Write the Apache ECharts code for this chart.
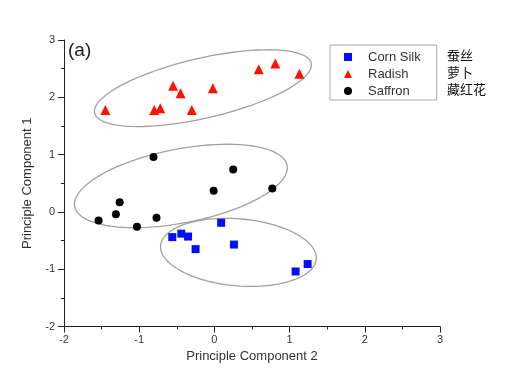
<!DOCTYPE html>
<html><head><meta charset="utf-8">
<script src="https://cdn.jsdelivr.net/npm/echarts@6/dist/echarts.min.js"></script>
<style>html,body{margin:0;padding:0;background:#fff}#c{width:523px;height:379px}</style>
</head><body><div id="c"></div>
<script>
const cornSilk = [[-0.56,-0.44],[-0.44,-0.38],[-0.35,-0.43],[-0.25,-0.65],[0.09,-0.19],[0.26,-0.57],[1.08,-1.04],[1.24,-0.91]];
const radish = [[-1.45,1.78],[-0.80,1.78],[-0.72,1.81],[-0.55,2.20],[-0.45,2.07],[-0.30,1.78],[-0.02,2.16],[0.59,2.49],[0.81,2.59],[1.13,2.41]];
const saffron = [[-0.81,0.96],[0.25,0.74],[-0.01,0.37],[0.77,0.41],[-1.26,0.17],[-1.31,-0.04],[-1.54,-0.15],[-1.03,-0.26],[-0.77,-0.10]];
// ellipses: center x, center y, semi-axis vector U (x,y), semi-axis vector V (x,y), in data units
const ellipses = [
  [-0.153, 2.16, 1.44, 0.436, 0.09, -0.509],
  [-0.446, 0.453, 1.412, 0.359, 0.094, -0.633],
  [0.32, -0.706, 1.035, -0.118, -0.039, -0.582]
];
const seriesNames = ['Corn Silk','Radish','Saffron'];
const chineseNames = ['蚕丝','萝卜','藏红花'];
const xTicks = [-2,-1,0,1,2,3];
const yTicks = [-2,-1,0,1,2,3];

const chart = echarts.init(document.getElementById('c'), null, {renderer:'canvas'});
const axisCommon = {
  axisLine:{show:true,onZero:false,lineStyle:{color:'#222',width:1}},
  axisTick:{show:true,inside:false,length:6,lineStyle:{color:'#222'}},
  minorTick:{show:true,splitNumber:2,length:3,lineStyle:{color:'#222'}},
  splitLine:{show:false},
  axisLabel:{color:'#333',fontSize:11,fontFamily:'Liberation Sans'},
  nameTextStyle:{color:'#333',fontSize:13,fontFamily:'Liberation Sans'}
};
chart.setOption({
  animation:false,
  backgroundColor:'#fff',
  grid:{left:64,right:83,top:40,bottom:52.5,containLabel:false},
  xAxis:Object.assign({}, axisCommon, {type:'value',min:xTicks[0],max:xTicks[xTicks.length-1],interval:1,
    name:'Principle Component 2',nameLocation:'middle',nameGap:23,
    axisLabel:Object.assign({}, axisCommon.axisLabel,{margin:8})}),
  yAxis:Object.assign({}, axisCommon, {type:'value',min:yTicks[0],max:yTicks[yTicks.length-1],interval:1,
    name:'Principle Component 1',nameLocation:'middle',nameGap:22,
    axisLabel:Object.assign({}, axisCommon.axisLabel,{margin:9})}),
  legend:{
    orient:'vertical',left:330,top:45,
    data:seriesNames,
    borderColor:'#aaa',borderWidth:1,
    padding:[5,16,2,14],
    itemWidth:8,itemHeight:8,itemGap:3,
    textStyle:{color:'#333',fontSize:13,fontFamily:'Liberation Sans',lineHeight:14,padding:[0,0,0,11]}
  },
  graphic:[
    {type:'text',left:68,top:41,style:{text:'(a)',font:'19px "Liberation Sans"',fill:'#222'}},
    {type:'text',left:447,top:49,style:{text:chineseNames[0],font:'13px "Noto Sans CJK SC"',fill:'#111'}},
    {type:'text',left:447,top:66,style:{text:chineseNames[1],font:'13px "Noto Sans CJK SC"',fill:'#111'}},
    {type:'text',left:447,top:83,style:{text:chineseNames[2],font:'13px "Noto Sans CJK SC"',fill:'#111'}}
  ],
  series:[
    {type:'custom',name:'ellipse',data:ellipses,z:1,silent:true,
      encode:{x:0,y:1},
      renderItem:function(params,api){
        const cx=api.value(0),cy=api.value(1),ux=api.value(2),uy=api.value(3),vx=api.value(4),vy=api.value(5);
        const pts=[];
        for(let i=0;i<=96;i++){const t=i/96*Math.PI*2;
          pts.push(api.coord([cx+Math.cos(t)*ux+Math.sin(t)*vx, cy+Math.cos(t)*uy+Math.sin(t)*vy]));}
        return {type:'polygon',shape:{points:pts},style:{fill:null,stroke:'#a0a0a0',lineWidth:1.3}};
      }},
    {type:'scatter',name:seriesNames[0],data:cornSilk,symbol:'rect',symbolSize:8,itemStyle:{color:'#0010ff',opacity:1},z:3},
    {type:'scatter',name:seriesNames[1],data:radish,symbol:'triangle',symbolSize:10,itemStyle:{color:'#ff1000',opacity:1},z:3},
    {type:'scatter',name:seriesNames[2],data:saffron,symbol:'circle',symbolSize:8,itemStyle:{color:'#000',opacity:1},z:3}
  ]
});
</script></body></html>
